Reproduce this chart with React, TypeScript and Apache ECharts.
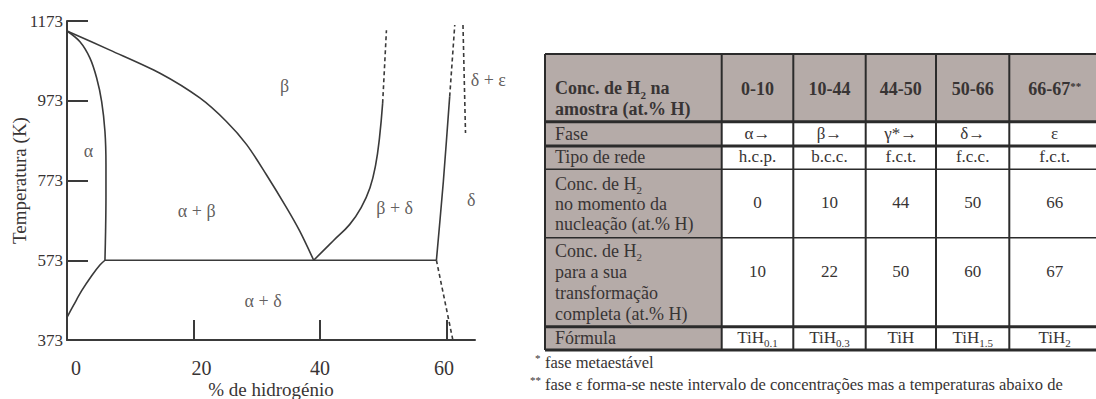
import React, { useEffect, useRef } from 'react';
import * as echarts from 'echarts';

const SERIF = 'Liberation Serif, Times New Roman, serif';
const INK = '#3a3a3a';
const TEXT = '#383434';
const SHADE = '#b5aba8';
const RULE = '#2b2b2b';

// Axis ticks
const xTickLabels = [0, 20, 40, 60];
const xInnerTicks = [20, 40, 60];
const yTickLabels = [373, 573, 773, 973, 1173];

// Ti–H phase boundaries as [at.% H, T (K)]
const alphaSolvus = [[0, 1148], [2.05, 1121], [3.63, 1080], [4.69, 1030], [5.48, 971], [6.0, 896], [6.16, 813], [6.16, 730], [6.1, 646], [6.0, 573]];
const betaTransus = [[0, 1148], [6.8, 1100], [14.7, 1042], [21.0, 980], [25.2, 921], [28.4, 863], [31.5, 788], [34.7, 705], [36.8, 646], [39.0, 573]];
const betaDeltaSolvus = [[39.0, 573], [42.1, 622], [44.7, 663], [46.5, 705], [47.9, 755], [48.8, 813], [49.4, 880], [49.9, 967]];
const betaDeltaUncertain = [[49.9, 967], [50.5, 1150]];
const deltaSolvus = [[58.4, 573], [59.5, 771], [60.5, 984]];
const deltaUncertain = [[60.5, 984], [61.3, 1163]];
const epsilonUncertain = [[62.6, 1163], [63.0, 892]];
const deltaLowUncertain = [[58.4, 573], [61.0, 373]];
const alphaDeltaSolvus = [[0, 430], [1.0, 459], [2.3, 496], [3.9, 534], [5.2, 561], [6.0, 573]];
const eutectoidLine = [[6.0, 573], [58.4, 573]];

// Phase field names placed at [at.% H, T (K)]
const phaseFields = [
  { name: 'β', value: [34.4, 1009] },
  { name: 'α', value: [3.4, 846] },
  { name: 'α + β', value: [20.5, 696] },
  { name: 'β + δ', value: [51.8, 705] },
  { name: 'δ', value: [63.9, 725] },
  { name: 'δ + ε', value: [66.6, 1025] },
  { name: 'α + δ', value: [31.0, 471] },
];

// Hydride table
const headerRanges = ['0-10', '10-44', '44-50', '50-66', '66-67'];
const phases = ['α→', 'β→', 'γ*→', 'δ→', 'ε'];
const lattices = ['h.c.p.', 'b.c.c.', 'f.c.t.', 'f.c.c.', 'f.c.t.'];
const nucleationH = [0, 10, 44, 50, 66];
const completeH = [10, 22, 50, 60, 67];
const formulaIndex = ['0.1', '0.3', '', '1.5', '2'];
const footnotes = ['fase metaestável', 'fase ε forma-se neste intervalo de concentrações mas a temperaturas abaixo de'];

function tokenStyle(size: number, weight: string, lh: number, va: string) {
  return {
    font: `${weight} ${size}px ${SERIF}`,
    fontFamily: SERIF,
    fontSize: size,
    fontWeight: weight,
    fill: TEXT,
    verticalAlign: va,
    lineHeight: lh,
  };
}

function richSet(size: number, weight: string, lh: number) {
  const small = Math.round(size * 0.62);
  return {
    n: tokenStyle(size, weight, lh, 'top'),
    s: tokenStyle(small, weight, lh, 'bottom'),
    u: tokenStyle(small, weight, lh, 'top'),
  };
}

function textEl(text: string, x: number, y: number, size: number, weight: string, align: string, lh: number) {
  return {
    type: 'text',
    silent: true,
    style: {
      text,
      x,
      y,
      font: `${weight} ${size}px ${SERIF}`,
      fill: TEXT,
      align,
      verticalAlign: 'middle',
      rich: richSet(size, weight, lh),
    },
  };
}

function buildTable() {
  const colX = [545, 721.7, 793.3, 865.7, 936, 1009.3, 1100];
  const rowY = [54, 121.7, 146, 169.3, 237.7, 326.7, 350];
  const rowW = [2, 3, 3, 1.6, 1.6, 3, 3];
  const els: any[] = [];
  els.push({ type: 'rect', silent: true, shape: { x: colX[0], y: rowY[0], width: colX[6] - colX[0], height: rowY[1] - rowY[0] }, style: { fill: SHADE } });
  els.push({ type: 'rect', silent: true, shape: { x: colX[0], y: rowY[1], width: colX[1] - colX[0], height: rowY[6] - rowY[1] }, style: { fill: SHADE } });
  rowY.forEach((y, i) => els.push({ type: 'line', silent: true, shape: { x1: colX[0], y1: y, x2: colX[6], y2: y }, style: { stroke: RULE, lineWidth: rowW[i] } }));
  colX.forEach((x) => els.push({ type: 'line', silent: true, shape: { x1: x, y1: rowY[0], x2: x, y2: rowY[6] }, style: { stroke: RULE, lineWidth: 2 } }));

  const lx = 555;
  els.push(textEl('{n|Conc. de H}{s|2}{n| na}\n{n|amostra (at.% H)}', lx, 100, 18, 'bold', 'left', 21));
  els.push(textEl('{n|Fase}', lx, 134.5, 18, 'normal', 'left', 20));
  els.push(textEl('{n|Tipo de rede}', lx, 158, 18, 'normal', 'left', 20));
  els.push(textEl('{n|Conc. de H}{s|2}\n{n|no momento da}\n{n|nucleação (at.% H)}', lx, 205, 18, 'normal', 'left', 20));
  els.push(textEl('{n|Conc. de H}{s|2}\n{n|para a sua}\n{n|transformação}\n{n|completa (at.% H)}', lx, 283.5, 18, 'normal', 'left', 21));
  els.push(textEl('{n|Fórmula}', lx, 338.5, 18, 'normal', 'left', 20));

  headerRanges.forEach((h, i) => {
    const cx = (colX[i + 1] + colX[i + 2]) / 2;
    const last = i === headerRanges.length - 1;
    els.push(textEl(last ? `{n|${h}}{u|**}` : `{n|${h}}`, cx, 90, 18, 'bold', 'center', 20));
    els.push(textEl(`{n|${phases[i]}}`, cx, 135, 17, 'normal', 'center', 20));
    els.push(textEl(`{n|${lattices[i]}}`, cx, 158, 17, 'normal', 'center', 20));
    els.push(textEl(`{n|${nucleationH[i]}}`, cx, 204, 17, 'normal', 'center', 20));
    els.push(textEl(`{n|${completeH[i]}}`, cx, 272.5, 17, 'normal', 'center', 20));
    els.push(textEl(formulaIndex[i] ? `{n|TiH}{s|${formulaIndex[i]}}` : '{n|TiH}', cx, 338.5, 17, 'normal', 'center', 20));
  });

  els.push(textEl('{n|*}', 535, 358, 11, 'normal', 'left', 12));
  els.push(textEl(`{n|${footnotes[0]}}`, 545, 363, 16.5, 'normal', 'left', 18));
  els.push(textEl('{n|**}', 530, 380, 11, 'normal', 'left', 12));
  els.push(textEl(`{n|${footnotes[1]}}`, 545, 385, 16.5, 'normal', 'left', 18));
  return els;
}

function boundary(data: number[][], dashed: boolean, smooth: number) {
  return {
    type: 'line',
    data,
    silent: true,
    symbol: 'none',
    smooth,
    clip: false,
    lineStyle: { color: INK, width: 1.6, type: dashed ? [4, 3] : 'solid' },
  };
}

const xLabelShift: Record<string, number[]> = {
  '0': [0, 0, 0, 18],
  '20': [0, 0, 0, 16],
  '40': [0, 0, 0, 0],
  '60': [0, 5, 0, 0],
};

export default function App() {
  const ref = useRef<HTMLDivElement>(null);

  useEffect(() => {
    document.body.style.margin = '0';
    if (!ref.current) return;
    const chart = echarts.init(ref.current, undefined, { renderer: 'svg' });
    const rich: Record<string, any> = {};
    xTickLabels.forEach((v) => {
      rich['t' + v] = { fontFamily: SERIF, fontSize: 20, lineHeight: 20, color: TEXT, padding: xLabelShift[String(v)] };
    });
    chart.setOption({
      animation: false,
      backgroundColor: '#ffffff',
      textStyle: { fontFamily: SERIF },
      grid: { left: 67, top: 21, width: 408, height: 319, containLabel: false, outerBoundsMode: 'none' },
      xAxis: {
        type: 'value',
        min: 0,
        max: 64.5,
        interval: 20,
        name: '% de hidrogénio',
        nameLocation: 'middle',
        nameGap: 40,
        nameMoveOverlap: false,
        nameTextStyle: { fontFamily: SERIF, fontSize: 19, lineHeight: 19, color: TEXT },
        axisLine: { lineStyle: { color: INK, width: 2 } },
        axisTick: { inside: true, length: 20, customValues: xInnerTicks, lineStyle: { color: INK, width: 2 } },
        axisLabel: {
          customValues: xTickLabels,
          margin: 18,
          formatter: (v: number) => `{t${v}|${v}}`,
          rich,
        },
        splitLine: { show: false },
      },
      yAxis: {
        type: 'value',
        min: 373,
        max: 1173,
        interval: 200,
        name: 'Temperatura (K)',
        nameLocation: 'middle',
        nameGap: 38,
        nameMoveOverlap: false,
        nameTextStyle: { fontFamily: SERIF, fontSize: 19, color: TEXT },
        axisLine: { show: true, lineStyle: { color: INK, width: 2 } },
        axisTick: { inside: true, length: 21, customValues: yTickLabels.slice(1), lineStyle: { color: INK, width: 2 } },
        axisLabel: {
          customValues: yTickLabels,
          margin: 4,
          fontFamily: SERIF,
          fontSize: 17,
          color: TEXT,
          formatter: (v: number) => String(v),
        },
        splitLine: { show: false },
      },
      series: [
        boundary(alphaSolvus, false, 0.35),
        boundary(betaTransus, false, 0.3),
        boundary(betaDeltaSolvus, false, 0.45),
        boundary(betaDeltaUncertain, true, 0),
        boundary(deltaSolvus, false, 0.2),
        boundary(deltaUncertain, true, 0),
        boundary(epsilonUncertain, true, 0),
        boundary(deltaLowUncertain, true, 0),
        boundary(alphaDeltaSolvus, false, 0.35),
        boundary(eutectoidLine, false, 0),
        {
          type: 'scatter',
          silent: true,
          clip: false,
          symbolSize: 0,
          data: phaseFields,
          label: {
            show: true,
            position: 'inside',
            formatter: (p: any) => p.name,
            fontFamily: SERIF,
            fontSize: 18,
            color: TEXT,
          },
        },
      ],
      graphic: { elements: buildTable() },
    });
    return () => chart.dispose();
  }, []);

  return <div ref={ref} style={{ width: 1096, height: 399 }} />;
}
